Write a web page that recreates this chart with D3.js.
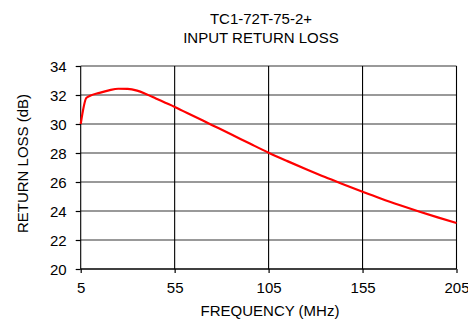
<!DOCTYPE html>
<html>
<head>
<meta charset="utf-8">
<script src="https://cdn.jsdelivr.net/npm/d3@7"></script>
<style>
  html, body { margin: 0; padding: 0; background: #fff; }
  text { font-family: "Liberation Sans", Arial, sans-serif; fill: #000; }
</style>
</head>
<body>
<svg id="chart" width="468" height="320"></svg>
<script>
const titleLines = ["TC1-72T-75-2+", "INPUT RETURN LOSS"];
const xTicks = [5, 55, 105, 155, 205];
const yTicks = [20, 22, 24, 26, 28, 30, 32, 34];
const freq = [5, 8, 10, 15, 20, 25, 30, 35, 40, 45, 50, 55, 65, 75, 85, 95, 105, 115, 125, 135, 145, 155, 165, 175, 185, 195, 205];
const returnLoss = [30.0, 31.8, 31.95, 32.15, 32.32, 32.43, 32.42, 32.3, 32.05, 31.76, 31.47, 31.18, 30.55, 29.92, 29.29, 28.65, 28.02, 27.44, 26.88, 26.34, 25.83, 25.33, 24.85, 24.4, 23.97, 23.56, 23.17];
const xLabel = "FREQUENCY (MHz)";
const yLabel = "RETURN LOSS (dB)";

const svg = d3.select("#chart");
const m = { left: 80.7, right: 456.5, top: 66, bottom: 269 };
const x = d3.scaleLinear().domain([5, 205]).range([m.left, m.right]);
const y = d3.scaleLinear().domain([20, 34]).range([m.bottom, m.top]);

// horizontal grid
svg.append("g").selectAll("line").data(yTicks).join("line")
  .attr("x1", m.left).attr("x2", m.right)
  .attr("y1", d => y(d)).attr("y2", d => y(d))
  .attr("stroke", d => d === 20 ? "#000" : "#777").attr("stroke-width", 1.5);

// vertical grid
svg.append("g").selectAll("line").data(xTicks).join("line")
  .attr("x1", d => x(d)).attr("x2", d => x(d))
  .attr("y1", m.top).attr("y2", m.bottom)
  .attr("stroke", "#000").attr("stroke-width", 1.1);

// y axis
const yAxis = svg.append("g").attr("transform", `translate(${m.left},0)`)
  .call(d3.axisLeft(y).tickValues(yTicks).tickFormat(d3.format("d")).tickSize(5).tickPadding(9));
yAxis.select(".domain").remove();
yAxis.selectAll("text").style("font-size", "15px").attr("dy", "0.36em");
yAxis.selectAll("line").attr("stroke", "#000").attr("stroke-width", 1.2);

// x axis
const xAxis = svg.append("g").attr("transform", `translate(0,${m.bottom})`)
  .call(d3.axisBottom(x).tickValues(xTicks).tickFormat(d3.format("d")).tickSize(4).tickPadding(9));
xAxis.select(".domain").remove();
xAxis.selectAll("text").style("font-size", "15px");
xAxis.selectAll("line").attr("stroke", "#000").attr("stroke-width", 1.2);

// curve
const line = d3.line().x((d, i) => x(freq[i])).y(d => y(d)).curve(d3.curveMonotoneX);
svg.append("path").datum(returnLoss)
  .attr("d", line).attr("fill", "none")
  .attr("stroke", "#ff0000").attr("stroke-width", 2.2);

// title
svg.append("g").selectAll("text").data(titleLines).join("text")
  .attr("x", 261).attr("y", (d, i) => 24 + i * 18.5)
  .attr("text-anchor", "middle").style("font-size", "15px").text(d => d);

// axis labels
svg.append("text").attr("x", 270).attr("y", 316)
  .attr("text-anchor", "middle").style("font-size", "15px").text(xLabel);
svg.append("text").attr("transform", "translate(28,163.5) rotate(-90)")
  .attr("text-anchor", "middle").style("font-size", "15px").text(yLabel);
</script>
</body>
</html>
